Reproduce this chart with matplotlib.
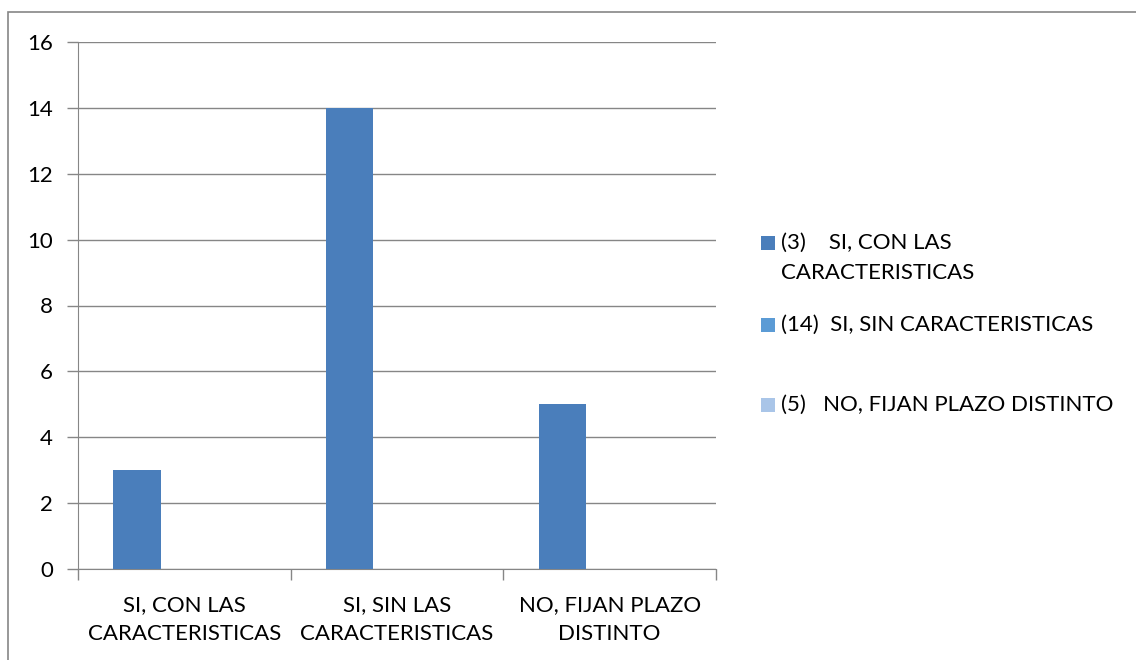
import matplotlib
matplotlib.use("Agg")
import matplotlib.pyplot as plt
from matplotlib.patches import Rectangle
import numpy as np

categories = ["SI, CON LAS\nCARACTERISTICAS", "SI, SIN LAS\nCARACTERISTICAS", "NO, FIJAN PLAZO\nDISTINTO"]
series_labels = ["(3)    SI, CON LAS\nCARACTERISTICAS", "(14)  SI, SIN CARACTERISTICAS", "(5)   NO, FIJAN PLAZO DISTINTO"]
series1 = [3, 14, 5]
series2 = [np.nan, np.nan, np.nan]
series3 = [np.nan, np.nan, np.nan]
colors = ["#4A7EBB", "#5B9BD5", "#A9C5E8"]
yticks = [0, 2, 4, 6, 8, 10, 12, 14, 16]

plt.rcParams['font.family'] = ['Lato', 'DejaVu Sans']
FS = 16
W, H = 1136, 660
fig = plt.figure(figsize=(W/100, H/100), dpi=100)

# outer chart border
fig.patches.append(Rectangle((8/W, -0.1), 1.2, (H-12)/H + 0.1, transform=fig.transFigure,
                             fill=False, edgecolor="#868686", linewidth=1.2))

x0, x1, ytop, ybot = 78, 716, 42, 569
ax = fig.add_axes([x0/W, 1-ybot/H, (x1-x0)/W, (ybot-ytop)/H])

bw = 1/4.5
x = np.arange(len(categories))
for i, vals in enumerate([series1, series2, series3]):
    ax.bar(x + (i-1)*bw, vals, width=bw, color=colors[i], zorder=3)

ax.set_xlim(-0.5, 2.5)
ax.set_ylim(0, 16)
ax.set_yticks(yticks)
ax.set_yticklabels([str(v) for v in yticks], fontsize=FS)
ax.yaxis.grid(True, color="#868686", linewidth=1.0, zorder=0)
for s in ["top", "right"]:
    ax.spines[s].set_visible(False)
ax.spines["left"].set_color("#868686")
ax.spines["bottom"].set_color("#868686")
ax.tick_params(axis="y", length=8, color="#868686", pad=10, width=1.0)
ax.set_xticks(x)
ax.set_xticklabels(categories, fontsize=FS, linespacing=1.55)
ax.tick_params(axis="x", length=0, pad=19)
ax.set_xticks([-0.5, 0.5, 1.5, 2.5], minor=True)
ax.tick_params(axis="x", which="minor", length=8, color="#868686", width=1.0)

# legend
ys = [243, 325, 405]
for lab, col, yy in zip(series_labels, colors, ys):
    fig.patches.append(Rectangle((761/W, 1-(yy+7)/H), 14/W, 14/H, transform=fig.transFigure,
                                 facecolor=col, edgecolor="none"))
    fig.text(781/W, 1-(yy-10)/H, lab, fontsize=FS, va="top", ha="left", linespacing=1.6)

fig.savefig("out.png", dpi=100)
